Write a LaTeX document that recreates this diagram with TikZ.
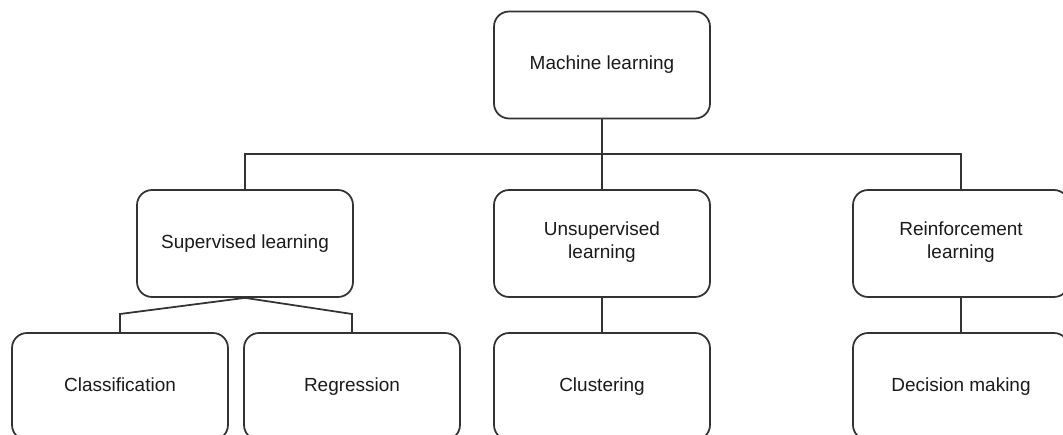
\documentclass[tikz,border=0pt]{standalone}
\usepackage{fontspec}
\setmainfont{Liberation Sans}
\usetikzlibrary{positioning,calc}
\definecolor{mlink}{HTML}{333333}
\definecolor{mltext}{HTML}{1A1A1A}
\tikzset{
  % every box of the tree, same size on every level
  ml box/.style={
    draw=mlink, line width=1pt, rounded corners=0.3cm,
    minimum width=4.32cm, minimum height=2.14cm, inner sep=0pt,
    align=center, text=mltext,
    font=\fontsize{10.8}{13}\selectfont,
    execute at begin node=\strut,
  },
  % plain joins between levels
  ml link/.style={
    draw=mlink, line width=1pt,
  },
}

\begin{document}
\begin{tikzpicture}[x=0.02cm,y=-0.02cm]

  \clip (0,0) rectangle (1063,435);

  % ---- root ----------------------------------------------------------------
  \node[ml box] (ml) at (602,65) {Machine learning};

  % ---- the three kinds -----------------------------------------------------
  \node[ml box] (sup)   at (245,243.5) {Supervised learning};
  \node[ml box] (unsup) at (602,243.5) {Unsupervised\\learning};
  \node[ml box] (rein)  at (961,243.5) {Reinforcement\\learning};

  % ---- what each one is used for -------------------------------------------
  \node[ml box] (cls) at (120,386.5) {Classification};
  \node[ml box] (reg) at (352,386.5) {Regression};
  \node[ml box] (clu) at (602,386.5) {Clustering};
  \node[ml box] (dec) at (961,386.5) {Decision making};

  \coordinate (bus)   at (0,154);
  \coordinate (split) at (0,314);

  \draw[ml link] (ml.south) -- (unsup.north);
  \draw[ml link] (sup.north) -- (sup.north |- bus) -- (rein.north |- bus)
    -- (rein.north);

  \draw[ml link] (sup.south) -- (cls.north |- split) -- (cls.north);
  \draw[ml link] (sup.south) -- (reg.north |- split) -- (reg.north);
  \draw[ml link] (unsup.south) -- (clu.north);
  \draw[ml link] (rein.south) -- (dec.north);

\end{tikzpicture}
\end{document}
